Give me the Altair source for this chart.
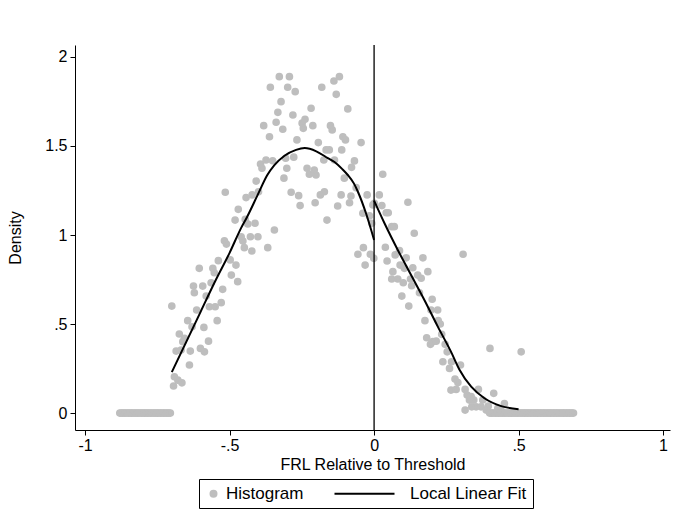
import altair as alt
import pandas as pd

# ---- data ----
left_zero_x = [-0.880, -0.875, -0.870, -0.865, -0.860, -0.855, -0.850, -0.845, -0.840,
               -0.835, -0.830, -0.825, -0.820, -0.815, -0.810, -0.805, -0.800, -0.795,
               -0.790, -0.785, -0.780, -0.775, -0.770, -0.765, -0.760, -0.755, -0.750,
               -0.745, -0.740, -0.735, -0.730, -0.725, -0.720, -0.715, -0.710, -0.705]

left_x = [-0.700, -0.694, -0.691, -0.685, -0.679, -0.674, -0.668, -0.665, -0.662, -0.656,
          -0.645, -0.639, -0.636, -0.630, -0.625, -0.622, -0.614, -0.605, -0.601, -0.593,
          -0.589, -0.587, -0.581, -0.573, -0.570, -0.564, -0.558, -0.553, -0.550, -0.543,
          -0.539, -0.529, -0.524, -0.518, -0.515, -0.511, -0.498, -0.494, -0.481, -0.478,
          -0.472, -0.470, -0.460, -0.454, -0.449, -0.446, -0.443, -0.437, -0.428, -0.423,
          -0.422, -0.412, -0.408, -0.402, -0.400, -0.393, -0.388, -0.382, -0.374, -0.368,
          -0.362, -0.359, -0.351, -0.345, -0.339, -0.333, -0.328, -0.322, -0.316, -0.312,
          -0.306, -0.302, -0.299, -0.293, -0.287, -0.281, -0.278, -0.273, -0.267, -0.261,
          -0.256, -0.249, -0.245, -0.239, -0.232, -0.224, -0.218, -0.212, -0.207, -0.204,
          -0.201, -0.193, -0.186, -0.181, -0.174, -0.172, -0.166, -0.163, -0.155, -0.151,
          -0.145, -0.139, -0.137, -0.131, -0.126, -0.120, -0.114, -0.112, -0.108, -0.103,
          -0.099, -0.091, -0.085, -0.080, -0.078, -0.068, -0.062, -0.056, -0.045, -0.039,
          -0.037, -0.031, -0.024, -0.016, -0.013, -0.008, -0.004, -0.001]
left_y = [0.601, 0.152, 0.204, 0.348, 0.185, 0.444, 0.354, 0.170, 0.401, 0.420,
          0.519, 0.270, 0.348, 0.485, 0.713, 0.676, 0.579, 0.813, 0.363, 0.713,
          0.481, 0.344, 0.657, 0.404, 0.597, 0.732, 0.813, 0.788, 0.597, 0.519,
          0.856, 0.620, 0.695, 0.968, 1.240, 0.949, 0.860, 0.775, 1.084, 0.831,
          0.738, 1.144, 0.990, 0.966, 0.929, 1.088, 1.210, 1.062, 0.990, 0.910,
          1.225, 1.066, 1.303, 0.990, 1.243, 1.399, 1.375, 1.614, 1.421, 0.929,
          1.552, 1.830, 1.417, 1.028, 1.633, 1.689, 1.889, 1.749, 1.594, 1.319,
          1.431, 1.375, 1.830, 1.889, 1.240, 1.674, 1.437, 1.805, 1.534, 1.221,
          1.165, 1.628, 1.599, 1.650, 1.375, 1.341, 1.712, 1.614, 1.365, 1.181,
          1.337, 1.519, 1.225, 1.830, 1.421, 1.243, 1.478, 1.084, 1.478, 1.614,
          1.590, 1.865, 1.421, 1.790, 1.163, 1.889, 1.225, 1.478, 1.552, 1.319,
          1.534, 1.708, 1.181, 1.219, 1.380, 1.416, 1.266, 0.892, 1.519, 1.122,
          0.929, 0.831, 1.225, 1.107, 0.892, 1.066, 1.169, 0.869]

right_x = [0.001, 0.018, 0.027, 0.030, 0.039, 0.042, 0.045, 0.049, 0.061, 0.061,
           0.065, 0.070, 0.073, 0.082, 0.088, 0.090, 0.096, 0.101, 0.105, 0.111,
           0.117, 0.120, 0.126, 0.130, 0.134, 0.139, 0.151, 0.157, 0.163, 0.169,
           0.176, 0.182, 0.186, 0.195, 0.197, 0.201, 0.203, 0.215, 0.220, 0.222,
           0.229, 0.234, 0.238, 0.246, 0.253, 0.261, 0.266, 0.268, 0.280, 0.284,
           0.290, 0.299, 0.308, 0.315, 0.315, 0.322, 0.330, 0.336, 0.338, 0.345,
           0.353, 0.361, 0.370, 0.376, 0.388, 0.395, 0.401, 0.414, 0.428, 0.439,
           0.451, 0.509]
right_y = [1.178, 1.225, 1.165, 1.341, 0.931, 1.125, 0.854, 1.125, 1.047, 0.753,
           0.794, 1.047, 0.888, 0.753, 0.912, 0.831, 0.657, 0.732, 0.813, 0.872,
           1.184, 0.601, 0.753, 0.715, 0.816, 1.010, 0.775, 0.676, 0.757, 0.872,
           0.519, 0.423, 0.794, 0.386, 0.579, 0.639, 0.401, 0.404, 0.579, 0.519,
           0.500, 0.442, 0.288, 0.386, 0.344, 0.251, 0.129, 0.288, 0.191, 0.133,
           0.172, 0.270, 0.892, 0.133, 0.017, 0.101, 0.073, 0.092, 0.035, 0.073,
           0.035, 0.133, 0.035, 0.073, 0.017, 0.039, 0.363, 0.111, 0.026, 0.017,
           0.054, 0.344]

right_zero_x = [0.400, 0.405, 0.410, 0.415, 0.420, 0.425, 0.430, 0.435, 0.440, 0.445,
                0.450, 0.455, 0.460, 0.465, 0.470, 0.475, 0.480, 0.485, 0.490, 0.495,
                0.500, 0.505, 0.510, 0.515, 0.520, 0.525, 0.530, 0.535, 0.540, 0.545,
                0.550, 0.555, 0.560, 0.565, 0.570, 0.575, 0.580, 0.585, 0.590, 0.595,
                0.600, 0.605, 0.610, 0.615, 0.620, 0.625, 0.630, 0.635, 0.640, 0.645,
                0.650, 0.655, 0.660, 0.665, 0.670, 0.675, 0.680, 0.685, 0.690]

fit_left_x = [-0.700, -0.650, -0.600, -0.550, -0.500, -0.460, -0.440, -0.400, -0.370,
              -0.345, -0.310, -0.270, -0.240, -0.200, -0.160, -0.137, -0.110, -0.091,
              -0.070, -0.056, -0.028, 0.000]
fit_left_y = [0.230, 0.400, 0.570, 0.740, 0.900, 1.040, 1.100, 1.235, 1.335,
              1.392, 1.445, 1.478, 1.488, 1.470, 1.432, 1.410, 1.370, 1.337,
              1.290, 1.243, 1.122, 0.972]
fit_right_x = [0.000, 0.036, 0.082, 0.128, 0.174, 0.220, 0.266, 0.295, 0.336, 0.382,
               0.440, 0.500]
fit_right_y = [1.193, 1.066, 0.916, 0.775, 0.635, 0.487, 0.345, 0.245, 0.148, 0.083,
               0.039, 0.022]

series_names = ["Histogram", "Local Linear Fit"]

# ---- tables ----
hist_x = left_zero_x + left_x + right_x + right_zero_x
hist_y = [0.0] * len(left_zero_x) + left_y + right_y + [0.0] * len(right_zero_x)
hist = pd.DataFrame({"x": hist_x, "y": hist_y, "series": series_names[0]})

fit = pd.DataFrame({
    "x": fit_left_x + fit_right_x,
    "y": fit_left_y + fit_right_y,
    "side": ["left"] * len(fit_left_x) + ["right"] * len(fit_right_x),
})
cutoff = pd.DataFrame({"x": [0.0]})

FONT = "Liberation Sans"
GRAY = "#bebebe"
FS = 16

xscale = alt.Scale(domain=[-1.035, 1.024], nice=False, zero=False)
yscale = alt.Scale(domain=[-0.095, 2.067], nice=False, zero=False)

xaxis = alt.Axis(values=[-1, -0.5, 0, 0.5, 1], title="FRL Relative to Threshold",
                 labelExpr="datum.value == -0.5 ? '-.5' : datum.value == 0.5 ? '.5' : toString(datum.value)",
                 labelPadding=2, titlePadding=3)
yaxis = alt.Axis(values=[0, 0.5, 1, 1.5, 2], title="Density", labelAngle=0,
                 labelExpr="datum.value == 0.5 ? '.5' : toString(datum.value)",
                 labelPadding=3, titlePadding=21)

# legend line symbol: a horizontal stroke drawn to the left of the entry's anchor
LINE_SYMBOL = "M-21,0H-1"

legend = alt.Legend(orient="none", legendX=124, legendY=434, direction="horizontal",
                    strokeColor="black", padding=6, columnPadding=26, labelOffset=4,
                    labelFontSize=17, labelFont=FONT, labelColor="black",
                    symbolStrokeWidth=2, symbolSize=36)

points = alt.Chart(hist).mark_point(filled=True, opacity=1, size=32).encode(
    x=alt.X("x:Q", scale=xscale, axis=xaxis),
    y=alt.Y("y:Q", scale=yscale, axis=yaxis),
    fill=alt.Fill("series:N", scale=alt.Scale(domain=series_names, range=[GRAY, "black"]),
                  legend=legend, title=None),
    stroke=alt.Stroke("series:N", scale=alt.Scale(domain=series_names, range=[GRAY, "black"]),
                      legend=legend, title=None),
    shape=alt.Shape("series:N", scale=alt.Scale(domain=series_names, range=["circle", LINE_SYMBOL]),
                    legend=legend, title=None),
)

rule = alt.Chart(cutoff).mark_rule(color="black", strokeWidth=1.3).encode(
    x=alt.X("x:Q", scale=xscale)
)

line = alt.Chart(fit).mark_line(color="black", strokeWidth=2, interpolate="monotone").encode(
    x=alt.X("x:Q", scale=xscale),
    y=alt.Y("y:Q", scale=yscale),
    detail="side:N",
)

chart = alt.layer(points, rule, line).properties(
    width=595, height=385,
    autosize=alt.AutoSizeParams(type="none"),
    padding={"left": 75, "top": 45, "right": 3, "bottom": 88},
    background="white",
).configure_view(strokeWidth=0).configure_axis(
    grid=False, domainColor="black", tickColor="black", labelColor="black",
    titleColor="black", labelFont=FONT, titleFont=FONT, labelFontSize=FS,
    titleFontSize=FS, titleFontWeight="normal", tickSize=5, domainWidth=1, tickWidth=1,
)

chart.save("out.html", embed_options={"renderer": "svg", "actions": False})
